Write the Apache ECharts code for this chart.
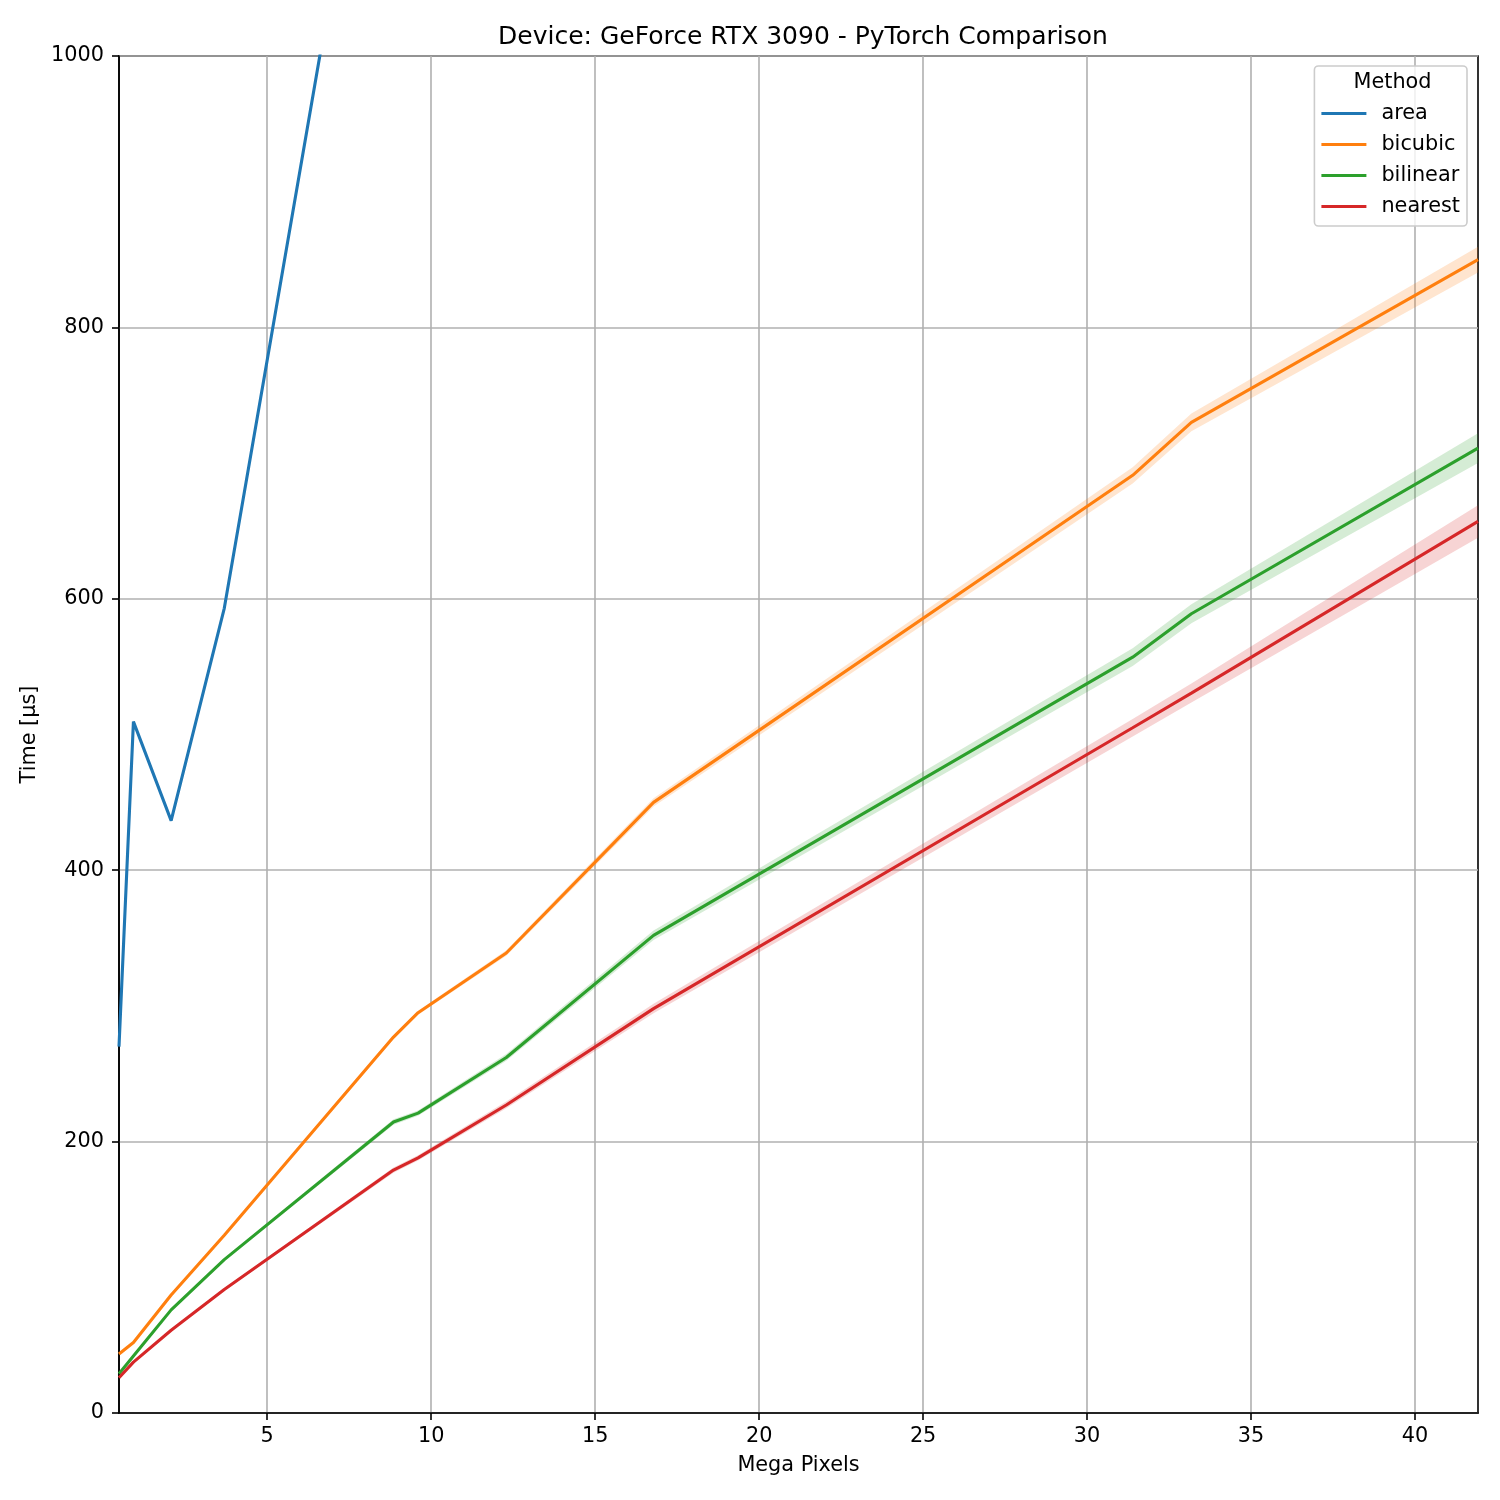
<!DOCTYPE html>
<html>
<head>
<meta http-equiv="Content-Type" content="text/html; charset=utf-8" />
<title>Device: GeForce RTX 3090 - PyTorch Comparison</title>
<script src="https://cdn.jsdelivr.net/npm/echarts@6/dist/echarts.min.js"></script>
<style>
  html, body { margin: 0; padding: 0; background: #fff; }
  #main { width: 1500px; height: 1500px; }
</style>
</head>
<body>
<div id="main"></div>
<script type="text/javascript">
// image sizes in mega pixels
var megaPixels = [0.48, 0.92, 2.07, 3.69, 8.85, 9.6, 12.29, 16.78, 31.39, 33.18, 41.92];
var methods = ['area', 'bicubic', 'bilinear', 'nearest'];
var colors = ['#1f77b4', '#ff7f0e', '#2ca02c', '#d62728'];

// mean time in µs
var areaTime     = [270, 509.5, 436.5, 593, 1314, 1420, 1800, 2450, 4550, 4800, 6000];
var bicubicTime  = [43.5, 52, 87, 131, 277, 295, 339, 450, 691, 730, 850];
var bilinearTime = [29, 42, 76, 113, 214.5, 221, 262, 352, 557, 589, 711];
var nearestTime  = [26, 37.5, 61, 91, 179, 188, 227, 298, 505, 530.5, 657];

// half width of the confidence band, µs
var areaErr     = [0.5, 1, 1, 1.5, 3, 3, 4, 5, 9, 9, 12];
var bicubicErr  = [0.5, 0.5, 0.8, 1, 1.5, 1.5, 2, 3, 6, 6.5, 9.5];
var bilinearErr = [0.5, 0.5, 0.8, 1, 2, 2, 2.5, 3.5, 6.5, 7, 11];
var nearestErr  = [0.5, 0.5, 0.8, 1, 2, 2, 2.5, 3.5, 6.5, 7, 12];

var xTicks = [5, 10, 15, 20, 25, 30, 35, 40];

var font = 'DejaVu Sans';
var times = [areaTime, bicubicTime, bilinearTime, nearestTime];
var errs = [areaErr, bicubicErr, bilinearErr, nearestErr];

function hexAlpha(hex, a) {
  var r = parseInt(hex.substr(1, 2), 16), g = parseInt(hex.substr(3, 2), 16), b = parseInt(hex.substr(5, 2), 16);
  return 'rgba(' + r + ',' + g + ',' + b + ',' + a + ')';
}

// band polygon: along the upper edge, back along the lower edge
function bandRenderer(k) {
  return function (params, api) {
    if (params.dataIndex !== 0) return;
    var pts = [];
    var n = megaPixels.length;
    for (var i = 0; i < n; i++) {
      pts.push(api.coord([megaPixels[i], times[k][i] + errs[k][i]]));
    }
    for (var j = n - 1; j >= 0; j--) {
      pts.push(api.coord([megaPixels[j], times[k][j] - errs[k][j]]));
    }
    return {
      type: 'polygon',
      shape: { points: pts },
      style: { fill: hexAlpha(colors[k], 0.2), stroke: null },
      silent: true
    };
  };
}

var series = [];
methods.forEach(function (name, k) {
  var mean = [];
  for (var i = 0; i < megaPixels.length; i++) {
    mean.push([megaPixels[i], times[k][i]]);
  }
  series.push({
    name: name + '_band', type: 'custom', data: mean,
    renderItem: bandRenderer(k), clip: true, silent: true, z: 2
  });
  series.push({
    name: name, type: 'line', data: mean, symbol: 'none',
    lineStyle: { color: colors[k], width: 3.1 }, itemStyle: { color: colors[k] },
    z: 3
  });
});

var chart = echarts.init(document.getElementById('main'));
chart.setOption({
  animation: false,
  backgroundColor: '#fff',
  title: {
    text: 'Device: GeForce RTX 3090 - PyTorch Comparison',
    left: 798, top: 20, textAlign: 'center',
    textStyle: { fontFamily: font, fontSize: 25, fontWeight: 'normal', color: '#000' }
  },
  grid: {
    left: 119, right: 22, top: 56, bottom: 87,
    show: true, borderColor: '#000', borderWidth: 1.6, backgroundColor: 'transparent'
  },
  legend: {
    data: methods,
    orient: 'vertical', right: 33, top: 66,
    padding: [37, 7, 9, 7],
    itemGap: 10, itemWidth: 45, itemHeight: 3, icon: 'rect',
    backgroundColor: 'rgba(255,255,255,0.8)', borderColor: '#cccccc', borderWidth: 1.6, borderRadius: 4,
    textStyle: { fontFamily: font, fontSize: 20.8, color: '#000', padding: [0, 0, 0, 10], lineHeight: 21 }
  },
  graphic: [{
    type: 'text', left: 1390.5 - 37, top: 72, z: 100,
    style: { text: 'Method', font: '20.8px "DejaVu Sans"', fill: '#000' }
  }],
  xAxis: {
    type: 'value', min: 0.48, max: 41.92, splitNumber: 8,
    name: 'Mega Pixels', nameLocation: 'middle', nameGap: 42,
    nameTextStyle: { fontFamily: font, fontSize: 20.8, color: '#000' },
    axisLine: { onZero: false, lineStyle: { color: '#000', width: 1.6 } },
    axisTick: { show: true, length: 7, lineStyle: { color: '#000', width: 1.6 }, customValues: xTicks },
    axisLabel: { customValues: xTicks, margin: 13, fontFamily: font, fontSize: 20.8, color: '#000' },
    splitLine: { show: true, lineStyle: { color: '#b0b0b0', width: 1.6 } }
  },
  yAxis: {
    type: 'value', min: 0, max: 1000, interval: 200,
    name: 'Time [µs]', nameLocation: 'middle', nameGap: 65,
    nameTextStyle: { fontFamily: font, fontSize: 20.8, color: '#000' },
    axisLine: { show: true, lineStyle: { color: '#000', width: 1.6 } },
    axisTick: { show: true, length: 7, lineStyle: { color: '#000', width: 1.6 } },
    axisLabel: { margin: 15, fontFamily: font, fontSize: 20.8, color: '#000', formatter: function (v) { return String(v); } },
    splitLine: { show: true, lineStyle: { color: '#b0b0b0', width: 1.6 } }
  },
  series: series
});
</script>
</body>
</html>
